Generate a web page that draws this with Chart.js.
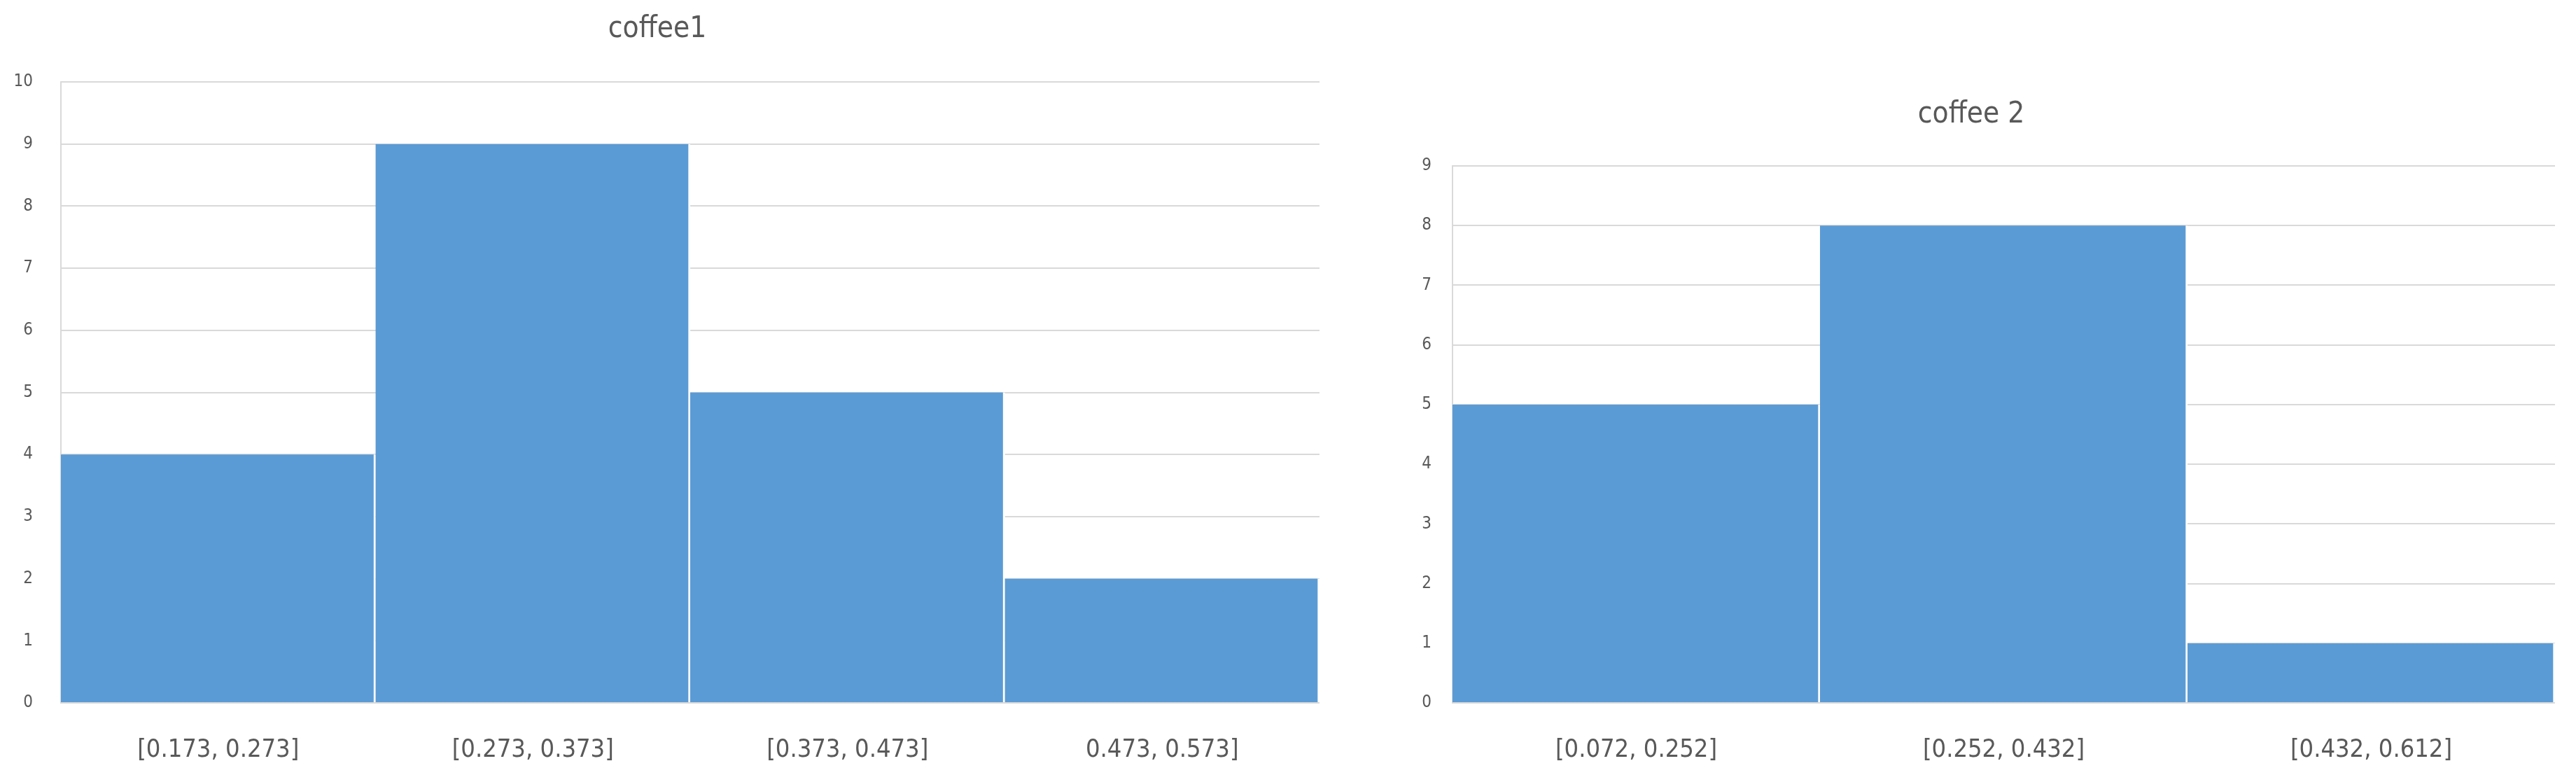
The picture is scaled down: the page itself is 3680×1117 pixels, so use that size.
<!DOCTYPE html>
<html><head><meta charset="utf-8">
<script src="https://cdn.jsdelivr.net/npm/chart.js@4"></script>
<style>
html,body{margin:0;padding:0;background:#fff;width:3680px;height:1117px;overflow:hidden}
.c{position:absolute;top:0;height:1117px}
</style></head><body>
<div class="c" style="left:0;width:1900px"><canvas id="c1"></canvas></div>
<div class="c" style="left:1900px;width:1780px"><canvas id="c2"></canvas></div>
<script>
const labels1 = ["[0.173, 0.273]", "[0.273, 0.373]", "[0.373, 0.473]", "0.473, 0.573]"];
const values1 = [4, 9, 5, 2];
const ticks1Max = 10;
const labels2 = ["[0.072, 0.252]", "[0.252, 0.432]", "[0.432, 0.612]"];
const values2 = [5, 8, 1];
const ticks2Max = 9;
const title1 = "coffee1";
const title2 = "coffee 2";

const FONT = "'Liberation Sans Narrow','DejaVu Sans Condensed','Liberation Sans',sans-serif";
function make(id, labels, values, max, title, opt){
  const titlePlugin = {id:'t'+id, afterDraw(ch){
    const c=ch.ctx; c.save(); c.fillStyle='#595959'; c.font='42px '+FONT;
    c.textAlign='center'; c.textBaseline='middle'; c.fillText(title, opt.tx, opt.ty); c.restore();}};
  new Chart(document.getElementById(id), {
    type:'bar',
    data:{labels, datasets:[{data:values, backgroundColor:'#5b9bd5',
      borderColor:'#ffffff', borderWidth:{right:3,left:0,top:0,bottom:0}, borderSkipped:false,
      barPercentage:1, categoryPercentage:1}]},
    options:{responsive:true, maintainAspectRatio:false, animation:false, devicePixelRatio:1,
      layout:{padding:{top:opt.top, right:opt.right, left:0, bottom:0}},
      plugins:{legend:{display:false}, tooltip:{enabled:false}, title:{display:false}},
      scales:{
        x:{grid:{display:false, drawTicks:false}, border:{display:false},
           ticks:{color:'#595959', font:{family:FONT,size:36}, padding:46, maxRotation:0},
           afterFit(s){s.height=113;}},
        y:{min:0, max:max, grid:{color:'#d9d9d9', lineWidth:2, drawTicks:false},
           border:{display:true, color:'#d9d9d9', width:2},
           ticks:{stepSize:1, color:'#595959', font:{family:FONT,size:24}, padding:opt.tp},
           afterFit(s){s.width=opt.left;}}
      }},
    plugins:[titlePlugin]
  });
}
make('c1', labels1, values1, ticks1Max, title1, {top:117, right:15, left:87, tp:40, tx:939, ty:42});
make('c2', labels2, values2, ticks2Max, title2, {top:237, right:30, left:175, tp:30, tx:916, ty:164});
</script></body></html>
